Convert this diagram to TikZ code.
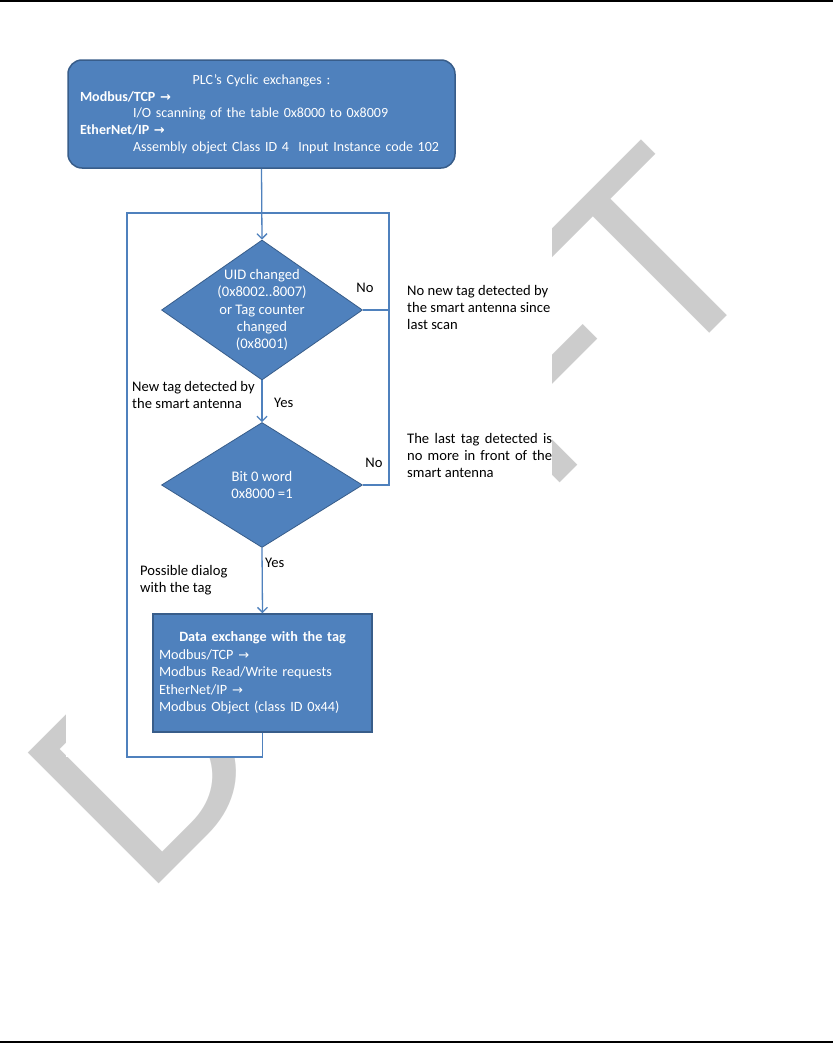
\documentclass[tikz,border=0pt]{standalone}
\usepackage{fontspec}
\setmainfont{Carlito}
\newfontfamily\wmfont{Liberation Sans}
\newfontfamily\arrowfont{DejaVu Sans}
\usetikzlibrary{shapes.geometric,arrows.meta}

\definecolor{boxblue}{RGB}{79,129,189}
\definecolor{boxedge}{RGB}{56,93,138}
\definecolor{wmgray}{RGB}{204,204,204}

\newcommand{\arr}{{\arrowfont\fontsize{13}{13}\selectfont →}}

\tikzset{
  flow/.style={draw=boxblue, line width=1.3pt},
  tip/.style={-{Straight Barb[length=5pt,width=10pt]}},
  startbox/.style={rectangle, rounded corners=14pt, fill=boxblue, draw=boxedge,
    line width=1.5pt, minimum width=387pt, minimum height=108pt, inner xsep=12pt,
    text=white, align=left, text width=363pt},
  decision/.style={diamond, fill=boxblue, draw=boxedge, line width=0.8pt, inner sep=0pt},
  insidetext/.style={text=white, align=center, inner sep=0pt},
  databox/.style={rectangle, fill=boxblue, draw=boxedge, line width=1.5pt,
    minimum width=219pt, minimum height=118pt, inner xsep=6pt,
    text=white, align=left, text width=207pt},
  note/.style={anchor=west, align=left, inner sep=0pt},
  wm/.style={anchor=base west, rotate=45, inner sep=0pt, text=wmgray,
    font=\wmfont\fontsize{269}{269}\selectfont}
}

\begin{document}
\begin{tikzpicture}[x=1pt,y=-1pt,font=\fontsize{14.6}{17}\selectfont]
  \useasboundingbox (0,0) rectangle (833,1044);

  % liniile paginii
  \draw[line width=1.5pt] (0,1) -- (833,1);
  \draw[line width=1.5pt] (0,1042) -- (833,1042);

  % filigran
  \node[wm] (draft) at (143,900) {DRAFT};
  \fill[white] (66,50) rectangle (552,757);

  % blocurile
  \node[startbox, font=\fontsize{14}{16.7}\selectfont] (cyclic) at (261.5,114) {%
    \makebox[363pt]{PLC’s Cyclic exchanges :}\\
    \textbf{Modbus/TCP \arr}\\
    \hspace*{53pt}I/O scanning of the table 0x8000 to 0x8009\\
    \textbf{EtherNet/IP \arr}\\
    \hspace*{53pt}Assembly object Class ID 4\ \ Input Instance code 102};

  \node[decision, minimum width=201pt, minimum height=140pt] (uid) at (262,310) {};
  \node[insidetext, font=\fontsize{14.6}{17.2}\selectfont] (uidtext) at (uid.center)
    {UID changed\\(0x8002..8007)\\or Tag counter\\changed\\(0x8001)};

  \node[decision, minimum width=201pt, minimum height=125pt] (bit) at (262,485) {};
  \node[insidetext] (bittext) at (bit.center) {Bit 0 word\\0x8000 =1};

  \node[databox, font=\fontsize{14.2}{17.5}\selectfont] (data) at (262.5,673) {%
    \makebox[207pt]{\textbf{Data exchange with the tag}}\\
    Modbus/TCP \arr\\
    Modbus Read/Write requests\\
    EtherNet/IP \arr\\
    Modbus Object (class ID 0x44)};

  % bucla
  \coordinate (tr) at (389,213);
  \coordinate (tl) at (127,213);
  \coordinate (bl) at (127,757);

  \draw[flow,tip] (cyclic.south) -- (uid.north);
  \draw[flow,tip] (uid.south) -- (bit.north);
  \draw[flow,tip] (bit.south) -- (data.north);
  \draw[flow] (uid.east) -- (uid.east -| tr);
  \draw[flow] (bit.east) -| (tr) -- (tl) -- (bl) -| (data.south);

  % etichete
  \node (no1) at (365,288) {No};
  \node (no2) at (374,463) {No};
  \node[note] (yes1) at (274,403) {Yes};
  \node[note] (yes2) at (265,563) {Yes};

  \node[note] (nonew) at (407,307) {No new tag detected by\\the smart antenna since\\last scan};
  \node[note] (lost) at (407,455) {\makebox[145pt][s]{The last tag detected is}\\
    \makebox[145pt][s]{no more in front of the}\\smart antenna};
  \node[note] (newtag) at (132,395) {New tag detected by\\the smart antenna};
  \node[note] (dialog) at (140,580) {Possible dialog\\with the tag};
\end{tikzpicture}
\end{document}
